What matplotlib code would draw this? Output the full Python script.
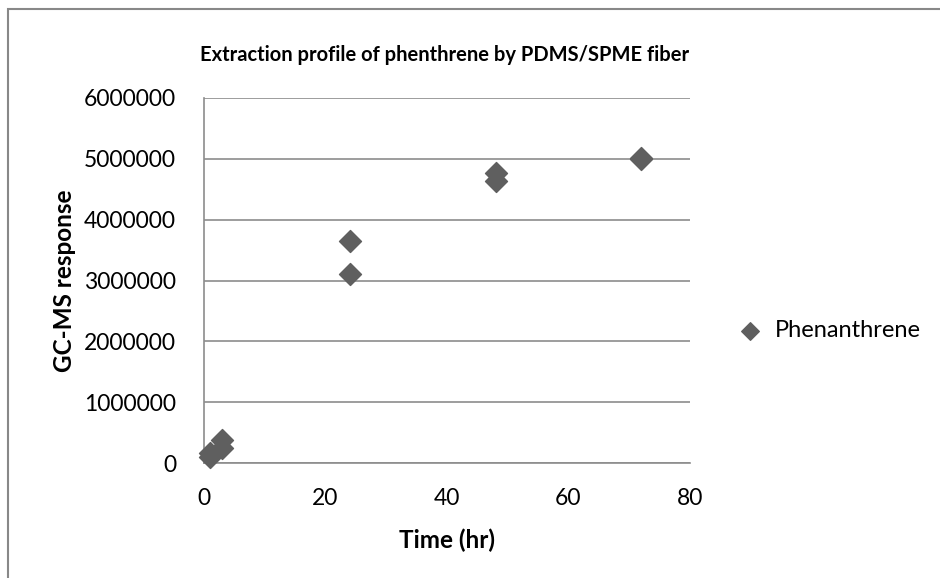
import matplotlib.pyplot as plt
from matplotlib.patches import Rectangle

# Data
time_hr = [1, 1, 3, 3, 24, 24, 48, 48, 72, 72]
response = [100000, 160000, 240000, 380000, 3110000, 3650000, 4640000, 4760000, 4990000, 5010000]

plt.rcParams['font.family'] = ['Lato', 'DejaVu Sans']

fig = plt.figure(figsize=(9.4, 5.78), dpi=100)
ax = fig.add_axes([204 / 940, 1 - 463 / 578, 486 / 940, 365 / 578])

ax.scatter(time_hr, response, marker='D', s=125, color='#5f5f5f', zorder=3,
           label='Phenanthrene', clip_on=False)

ax.set_xlim(0, 80)
ax.set_ylim(0, 6000000)
ax.set_xticks([0, 20, 40, 60, 80])
ax.set_yticks(range(0, 6000001, 1000000))
ax.ticklabel_format(style='plain', axis='y')

ax.grid(axis='y', color='#8c8c8c', linewidth=1.2)
ax.set_axisbelow(True)
for side in ['top', 'right']:
    ax.spines[side].set_visible(False)
for side in ['left', 'bottom']:
    ax.spines[side].set_color('#8c8c8c')
    ax.spines[side].set_linewidth(1.2)
ax.tick_params(length=0, labelsize=16.5)
ax.tick_params(axis='y', pad=20)
ax.tick_params(axis='x', pad=18)

ax.set_xlabel('Time (hr)', fontsize=17.5, fontweight='bold', labelpad=14)
ax.set_ylabel('GC-MS response', fontsize=17.5, fontweight='bold', labelpad=6)
fig.text(445 / 940, 1 - 55 / 578, 'Extraction profile of phenthrene by PDMS/SPME fiber',
         ha='center', va='center', fontsize=14.5, fontweight='bold')

ax.legend(loc='center left', bbox_to_anchor=(1.05, (463 - 331) / 365), frameon=False,
          fontsize=17, handletextpad=0.05, markerscale=0.8, borderpad=0)

# chart border
fig.patches.append(Rectangle((8 / 940, -0.1), 1.2, 1 - 9 / 578 + 0.1,
                             transform=fig.transFigure, fill=False,
                             edgecolor='#888888', linewidth=1.5))

fig.savefig('out.png', dpi=100)
